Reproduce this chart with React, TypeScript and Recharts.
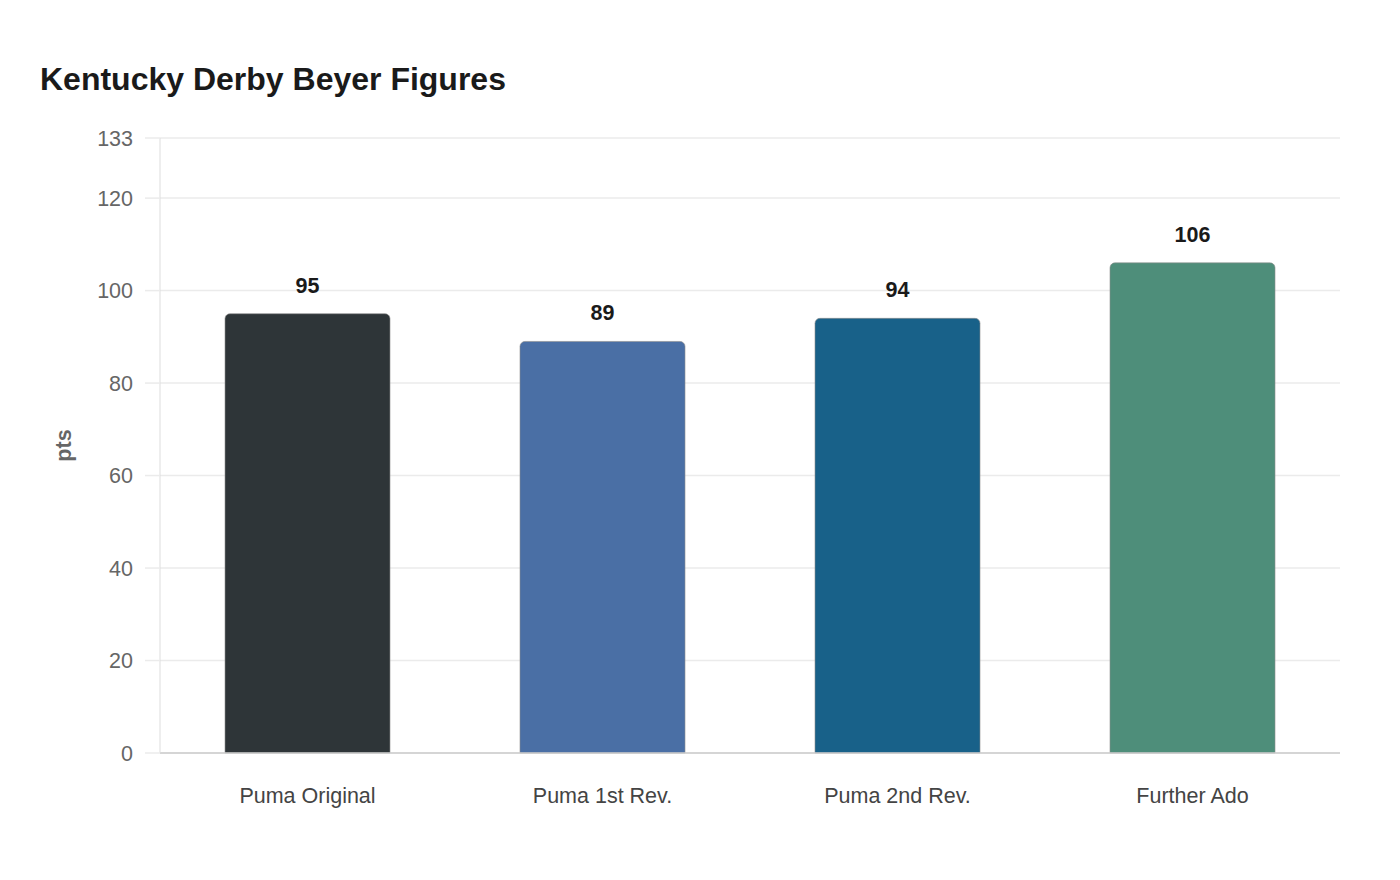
import { BarChart, Bar, XAxis, YAxis, CartesianGrid, LabelList, Cell } from 'recharts';

// Beyer speed figures
const horses = ['Puma Original', 'Puma 1st Rev.', 'Puma 2nd Rev.', 'Further Ado'];
const beyer = [95, 89, 94, 106];
const barColors = ['#2e3538', '#4a6fa5', '#186189', '#4e8e7a'];
const yTicks = [0, 20, 40, 60, 80, 100, 120, 133];

const data = horses.map((name, i) => ({ name, pts: beyer[i] }));

const FONT = '"Liberation Sans", Arial, sans-serif';

export default function App() {
    return (
        <div style={{ position: 'absolute', left: 0, top: 0, width: 1400, height: 880, background: '#fff', fontFamily: FONT }}>
            <div
                style={{
                    position: 'absolute',
                    left: 40,
                    top: 60,
                    fontSize: 32,
                    fontWeight: 'bold',
                    color: '#1a1a1a',
                    lineHeight: '38px',
                    whiteSpace: 'nowrap',
                }}
            >
                Kentucky Derby Beyer Figures
            </div>

            <div style={{ position: 'absolute', left: 0, top: 0 }}>
                <BarChart
                    width={1400}
                    height={880}
                    data={data}
                    margin={{ top: 138, right: 60, left: 100, bottom: 67 }}
                    barCategoryGap="22%"
                >
                    <CartesianGrid vertical={false} stroke="#ebebeb" strokeWidth={1.5} />
                    <XAxis
                        dataKey="name"
                        height={60}
                        axisLine={{ stroke: '#cccccc', strokeWidth: 1.5 }}
                        tickLine={false}
                        tickMargin={29}
                        tick={{ fill: '#444', fontSize: 21.5, fontFamily: FONT }}
                    />
                    <YAxis
                        width={60}
                        domain={[0, 133]}
                        ticks={yTicks}
                        interval={0}
                        axisLine={{ stroke: '#dddddd', strokeWidth: 1 }}
                        tickLine={{ stroke: '#ebebeb', strokeWidth: 1.5 }}
                        tickSize={15}
                        tickMargin={12}
                        tick={{ fill: '#666', fontSize: 21.5, fontFamily: FONT }}
                        label={{
                            value: 'pts',
                            angle: -90,
                            position: 'insideLeft',
                            offset: -37,
                            style: { fill: '#666', fontSize: 21.5, fontWeight: 'bold', fontFamily: FONT, textAnchor: 'middle' },
                        }}
                    />
                    <Bar
                        dataKey="pts"
                        barSize={165}
                        radius={[5, 5, 0, 0]}
                        stroke="rgba(140,140,140,0.6)"
                        strokeWidth={1}
                        isAnimationActive={false}
                    >
                        {data.map((d, i) => (
                            <Cell key={d.name} fill={barColors[i]} />
                        ))}
                        <LabelList
                            dataKey="pts"
                            position="top"
                            offset={21}
                            style={{ fill: '#1a1a1a', fontSize: 21.5, fontWeight: 'bold', fontFamily: FONT }}
                        />
                    </Bar>
                </BarChart>
            </div>
        </div>
    );
}
